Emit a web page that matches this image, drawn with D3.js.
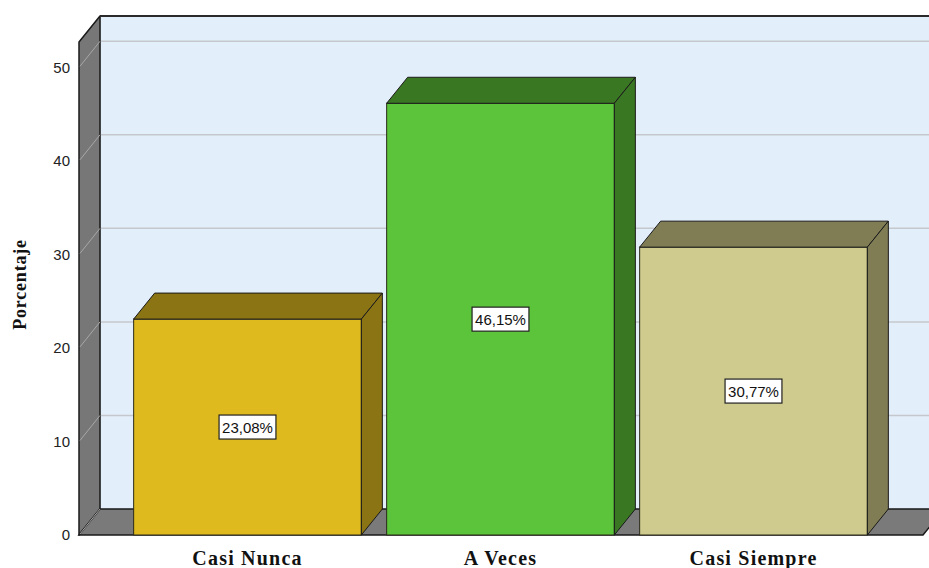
<!DOCTYPE html>
<html>
<head>
<meta charset="utf-8">
<script src="https://cdn.jsdelivr.net/npm/d3@7"></script>
<style>
  body { margin: 0; background: #ffffff; }
  #graphic { width: 929px; height: 568px; }
  .yaxis text { font-family: "Liberation Sans", Arial, sans-serif; font-size: 15px; fill: #222; }
  .xaxis text { font-family: "Liberation Serif", "Times New Roman", serif; font-size: 20px; font-weight: bold; letter-spacing: 1.2px; fill: #111; }
  .axis path, .axis line { display: none; }
</style>
</head>
<body>
<div id="graphic"></div>
<script>
// percentages per answer category
const categories = ["Casi Nunca", "A Veces", "Casi Siempre"];
const percentages = [23.08, 46.15, 30.77];
const valueLabels = ["23,08%", "46,15%", "30,77%"];
const yTicks = [0, 10, 20, 30, 40, 50];

const frontColors = ["#dfba1f", "#5cc43a", "#cfca8e"];
const darkColors = ["#8a7414", "#3a7723", "#807d55"];

const depth = { x: 21, y: 26 }; // offset of the back wall
const wallLeft = 79, wallRight = 923;

const svg = d3.select("#graphic")
  .append("svg")
  .attr("width", 929)
  .attr("height", 568);

const yScale = d3.scaleLinear()
  .domain([0, 52.7])
  .range([535, 42]);

const xScale = d3.scaleBand()
  .domain(categories)
  .range([121, 880])
  .paddingInner(0.1)
  .paddingOuter(0.05);

const y0 = yScale(0), yTop = yScale(52.7);

// back wall
svg.append("rect")
  .attr("x", wallLeft + depth.x)
  .attr("y", yTop - depth.y)
  .attr("width", wallRight - wallLeft + 10)
  .attr("height", y0 - yTop)
  .attr("fill", "#e3eefb");

// grid lines on back wall
svg.append("g")
  .selectAll("line")
  .data(yTicks.filter(d => d > 0))
  .enter()
  .append("line")
  .attr("x1", wallLeft + depth.x)
  .attr("x2", 929)
  .attr("y1", d => yScale(d) - depth.y)
  .attr("y2", d => yScale(d) - depth.y)
  .attr("stroke", "#c4c8cc")
  .attr("stroke-width", 1.5);

// top edge of back wall
svg.append("line")
  .attr("x1", wallLeft + depth.x).attr("x2", 929)
  .attr("y1", yTop - depth.y).attr("y2", yTop - depth.y)
  .attr("stroke", "#2a2a2a").attr("stroke-width", 2);

svg.append("line")
  .attr("x1", wallLeft + depth.x).attr("x2", wallLeft + depth.x)
  .attr("y1", yTop - depth.y).attr("y2", y0 - depth.y)
  .attr("stroke", "#9a9a9a").attr("stroke-width", 1);

// left wall
svg.append("path")
  .attr("d", `M${wallLeft},${y0} L${wallLeft},${yTop} L${wallLeft + depth.x},${yTop - depth.y} L${wallLeft + depth.x},${y0 - depth.y} Z`)
  .attr("fill", "#777777")
  .attr("stroke", "#1a1a1a")
  .attr("stroke-width", 1.5)
  .attr("stroke-linejoin", "round");

// floor
svg.append("path")
  .attr("d", `M${wallLeft},${y0} L${wallLeft + depth.x},${y0 - depth.y} L${wallRight + depth.x},${y0 - depth.y} L${wallRight},${y0} Z`)
  .attr("fill", "#7a7a7a")
  .attr("stroke", "#1a1a1a")
  .attr("stroke-width", 1.5);

// grid lines on left wall
svg.append("g")
  .selectAll("line")
  .data(yTicks)
  .enter()
  .append("line")
  .attr("x1", wallLeft + 1)
  .attr("x2", wallLeft + depth.x)
  .attr("y1", d => yScale(d) - 1)
  .attr("y2", d => yScale(d) - depth.y)
  .attr("stroke", "#a8a8a8")
  .attr("stroke-width", 1);

// bars
const bars = svg.append("g").attr("class", "bars");

categories.forEach(function(cat, i) {
  const x = xScale(cat);
  const w = xScale.bandwidth();
  const yv = yScale(percentages[i]);
  const g = bars.append("g");

  g.append("rect")
    .attr("x", x).attr("y", yv)
    .attr("width", w).attr("height", y0 - yv)
    .attr("fill", frontColors[i])
    .attr("stroke", "#2a2a1a").attr("stroke-width", 1);

  g.append("path")
    .attr("d", `M${x},${yv} L${x + depth.x},${yv - depth.y} L${x + w + depth.x},${yv - depth.y} L${x + w},${yv} Z`)
    .attr("fill", darkColors[i])
    .attr("stroke", "#1a1a1a").attr("stroke-width", 1);

  g.append("path")
    .attr("d", `M${x + w},${yv} L${x + w + depth.x},${yv - depth.y} L${x + w + depth.x},${y0 - depth.y} L${x + w},${y0} Z`)
    .attr("fill", darkColors[i])
    .attr("stroke", "#1a1a1a").attr("stroke-width", 1);

  // value label
  const cx = x + w / 2;
  const cy = (y0 + yv) / 2;
  const t = g.append("text")
    .attr("x", cx).attr("y", cy)
    .attr("text-anchor", "middle")
    .attr("dominant-baseline", "central")
    .style("font-family", "Liberation Sans, Arial, sans-serif")
    .style("font-size", "15px")
    .attr("fill", "#111")
    .text(valueLabels[i]);
  const bb = t.node().getBBox();
  g.insert("rect", "text")
    .attr("x", bb.x - 3).attr("y", cy - 12)
    .attr("width", bb.width + 6).attr("height", 24)
    .attr("fill", "#ffffff")
    .attr("stroke", "#222").attr("stroke-width", 1.2);
});

// axes
const yAxis = d3.axisLeft(yScale)
  .tickValues(yTicks)
  .tickSize(0)
  .tickPadding(9);

svg.append("g")
  .attr("class", "axis yaxis")
  .attr("transform", `translate(${wallLeft},0)`)
  .call(yAxis);

const xAxis = d3.axisBottom(xScale)
  .tickSize(0)
  .tickPadding(16);

svg.append("g")
  .attr("class", "axis xaxis")
  .attr("transform", `translate(0,${y0})`)
  .call(xAxis);

svg.append("text")
  .attr("transform", `translate(26,${y0 - (y0 - yTop) / 2 - 4}) rotate(-90)`)
  .attr("text-anchor", "middle")
  .style("font-family", "Liberation Serif, Times New Roman, serif")
  .style("font-size", "18px")
  .style("font-weight", "bold")
  .style("letter-spacing", "0.8px")
  .attr("fill", "#111")
  .text("Porcentaje");
</script>
</body>
</html>
